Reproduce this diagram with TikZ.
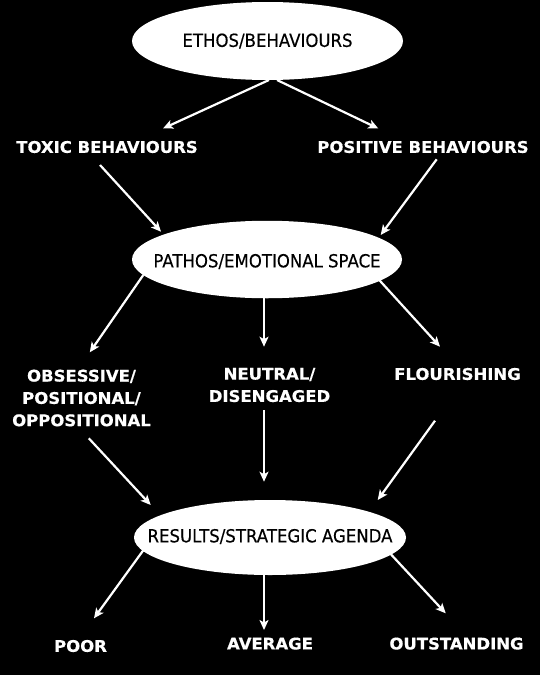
\documentclass[tikz,border=0pt]{standalone}
\usepackage{fontspec}
\usetikzlibrary{shapes.geometric,arrows.meta,calc}
\newfontfamily\labfont[FakeStretch=1.03,FakeBold=0.5]{DejaVu Sans Bold}
\newfontfamily\elfont[FakeStretch=0.92,FakeBold=0.3]{DejaVu Sans}
\tikzset{
  ell/.style={ellipse,fill=white,draw=none,inner sep=0pt},
  elltext/.style={text=black,font=\elfont\fontsize{18}{22}\selectfont,inner sep=0pt},
  lab/.style={text=white,font=\labfont\fontsize{16}{22.3}\selectfont,align=center,inner sep=0pt},
  arr/.style={draw=white,line width=2.2pt,-{Stealth[length=10pt,width=9pt,inset=2.5pt]}}
}
\begin{document}
\begin{tikzpicture}[x=1pt,y=-1pt]
\fill[black] (0,0) rectangle (540,675);
\useasboundingbox (0,0) rectangle (540,675);
% ellipses
\node[ell,minimum width=271pt,minimum height=78pt,label={[elltext]center:ETHOS/BEHAVIOURS}] (ethos) at (267.5,41) {};
\node[ell,minimum width=270pt,minimum height=77.5pt,label={[elltext,yshift=-2pt]center:PATHOS/EMOTIONAL SPACE}] (pathos) at (267,259.5) {};
\node[ell,minimum width=272pt,minimum height=75pt,label={[elltext,yshift=1pt]center:RESULTS/STRATEGIC AGENDA}] (results) at (270,537.5) {};
% labels
\node[lab] (toxic) at (107,147) {TOXIC BEHAVIOURS};
\node[lab] (positive) at (423,147) {POSITIVE BEHAVIOURS};
\node[lab] (obsessive) at (81.5,398) {OBSESSIVE/\\POSITIONAL/\\OPPOSITIONAL};
\node[lab] (neutral) at (269.5,385) {NEUTRAL/\\DISENGAGED};
\node[lab] (flourishing) at (457.5,374) {FLOURISHING};
\node[lab] (poor) at (80.5,646) {POOR};
\node[lab] (average) at (270,643.6) {AVERAGE};
\node[lab] (outstanding) at (456.5,643.6) {OUTSTANDING};
% connectors
\draw[arr] ($(ethos)+(1.5,39)$) -- ($(toxic)+(56,-18.5)$);
\draw[arr] ($(ethos)+(9.5,39)$) -- ($(positive)+(-44.7,-18.5)$);
\draw[arr] ($(toxic)+(-7,18)$) -- ($(pathos)+(-106,-27.8)$);
\draw[arr] ($(positive)+(13.7,12.3)$) -- ($(pathos)+(113.7,-24.5)$);
\draw[arr] ($(pathos)+(-123.7,15.5)$) -- ($(obsessive)+(8.3,-45.7)$);
\draw[arr] ($(pathos)+(-3,37)$) -- ($(neutral)+(-5.5,-38.3)$);
\draw[arr] ($(pathos)+(111.3,19.5)$) -- ($(flourishing)+(-17.5,-27.3)$);
\draw[arr] ($(obsessive)+(7.3,40.3)$) -- ($(results)+(-119.3,-32.5)$);
\draw[arr] ($(neutral)+(-5.5,25)$) -- ($(results)+(-6,-55.8)$);
\draw[arr] ($(flourishing)+(-22.5,46.7)$) -- ($(results)+(107.7,-37.5)$);
\draw[arr] ($(results)+(-126,11.8)$) -- ($(poor)+(13.5,-27.7)$);
\draw[arr] ($(results)+(-6,37)$) -- ($(average)+(-6,-13.6)$);
\draw[arr] ($(results)+(120,15.8)$) -- ($(outstanding)+(-10.8,-30.3)$);
\end{tikzpicture}
\end{document}
